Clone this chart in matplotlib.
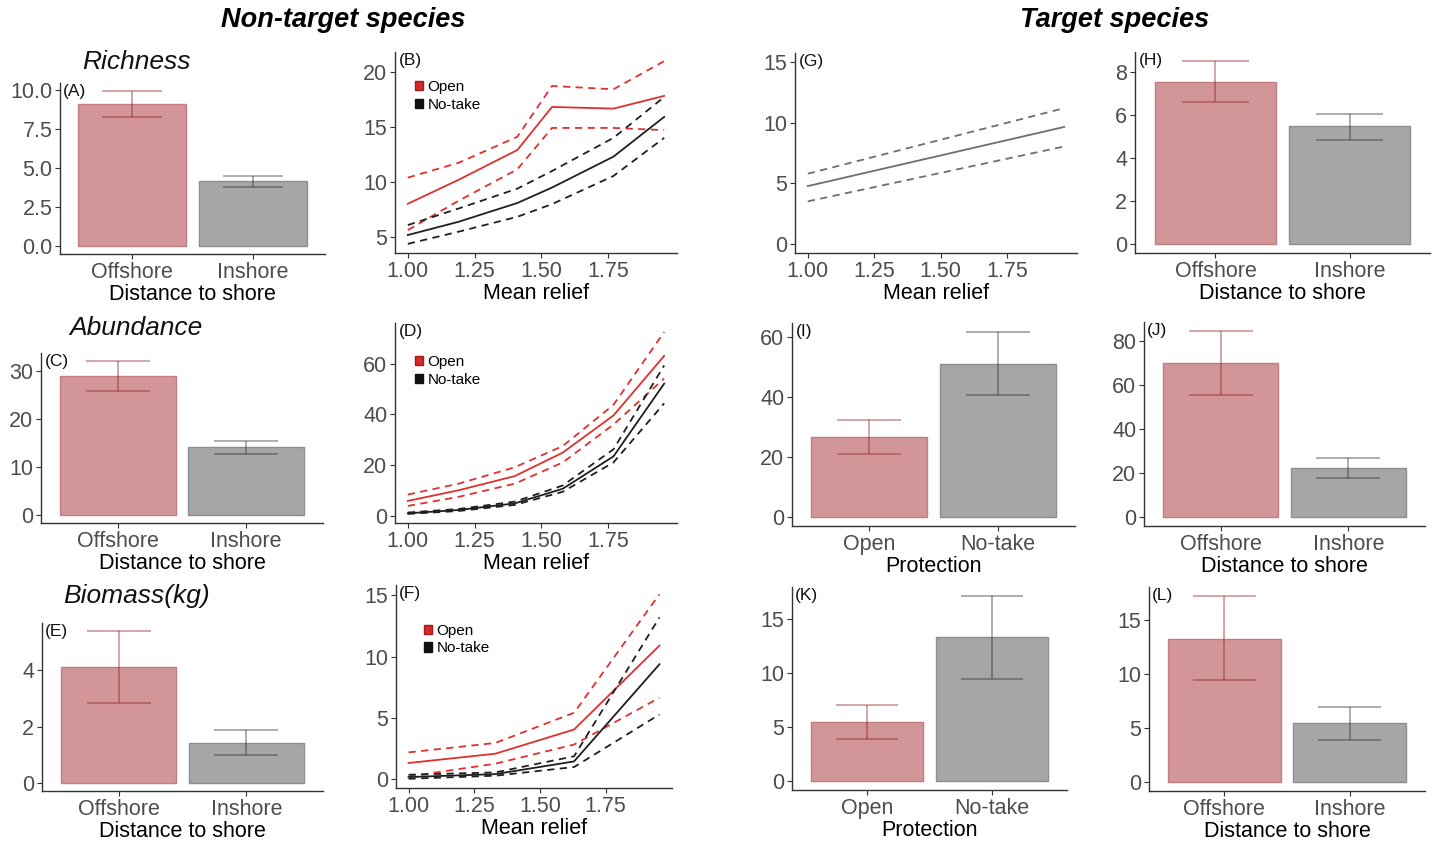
import matplotlib
matplotlib.use("Agg")
import matplotlib.pyplot as plt
from matplotlib.patches import Patch

plt.rcParams["font.family"] = ["Liberation Sans", "DejaVu Sans"]

# ---------------------------------------------------------------------------
# Data
# ---------------------------------------------------------------------------
dist_cats = ["Offshore", "Inshore"]
prot_cats = ["Open", "No-take"]

# non-target, distance to shore: mean, lower, upper
rich_mean = [9.1, 4.15]
rich_lo = [8.25, 3.8]
rich_hi = [9.95, 4.48]
abun_mean = [29.1, 14.2]
abun_lo = [25.9, 12.8]
abun_hi = [32.2, 15.45]
biom_mean = [4.12, 1.44]
biom_lo = [2.84, 1.02]
biom_hi = [5.4, 1.87]

# target species
t_rich_mean = [7.57, 5.48]
t_rich_lo = [6.64, 4.87]
t_rich_hi = [8.53, 6.08]
t_abun_prot_mean = [26.8, 51.2]
t_abun_prot_lo = [21.0, 40.6]
t_abun_prot_hi = [32.4, 61.7]
t_abun_dist_mean = [69.9, 22.3]
t_abun_dist_lo = [55.2, 17.7]
t_abun_dist_hi = [84.2, 26.7]
t_biom_prot_mean = [5.44, 13.25]
t_biom_prot_lo = [3.87, 9.4]
t_biom_prot_hi = [6.98, 17.06]
t_biom_dist_mean = [13.26, 5.45]
t_biom_dist_lo = [9.38, 3.9]
t_biom_dist_hi = [17.17, 6.92]

# mean relief effects (fit, lower, upper) for Open / No-take
relief_b = [1.0, 1.19, 1.41, 1.54, 1.77, 1.96]
b_open = [8.03, 10.2, 12.9, 16.8, 16.65, 17.8]
b_open_lo = [5.65, 8.3, 11.15, 14.9, 14.9, 14.7]
b_open_hi = [10.4, 11.74, 14.1, 18.7, 18.4, 20.95]
b_nt = [5.2, 6.4, 8.1, 9.5, 12.3, 15.9]
b_nt_lo = [4.4, 5.5, 6.85, 8.0, 10.55, 14.0]
b_nt_hi = [6.1, 7.6, 9.4, 11.0, 14.0, 17.7]

relief_d = [1.0, 1.19, 1.40, 1.58, 1.77, 1.96]
d_open = [5.8, 10.0, 15.6, 24.9, 39.6, 63.2]
d_open_lo = [3.8, 7.4, 12.6, 21.0, 36.0, 54.2]
d_open_hi = [8.3, 12.6, 19.1, 27.5, 43.8, 72.6]
d_nt = [0.9, 2.2, 4.8, 10.6, 23.4, 52.2]
d_nt_lo = [0.65, 1.8, 4.2, 9.4, 21.0, 44.4]
d_nt_hi = [1.2, 2.6, 5.5, 11.9, 26.2, 59.4]

relief_f = [1.0, 1.33, 1.63, 1.955]
f_open = [1.29, 2.05, 4.03, 10.9]
f_open_lo = [0.19, 1.23, 2.8, 6.63]
f_open_hi = [2.16, 2.93, 5.4, 15.1]
f_nt = [0.14, 0.38, 1.42, 9.37]
f_nt_lo = [0.0, 0.25, 0.96, 5.26]
f_nt_hi = [0.33, 0.52, 1.84, 13.2]

relief_g = [1.0, 1.965]
g_fit = [4.77, 9.65]
g_lo = [3.51, 8.04]
g_hi = [5.79, 11.2]

# ---------------------------------------------------------------------------
W, H = 1432, 843
fig = plt.figure(figsize=(W / 100, H / 100), dpi=100)

BAR_FILL = ["#d29698", "#a6a6a6"]
BAR_EDGE = ["#c27d80", "#8e8e8e"]
ERR_COL = ["#8b1a1a", "#2b2b2b"]
RED = "#e0302e"
BLACK = "#1f1f1f"
TICK_FS = 15.5
LAB_FS = 15.5


def make_ax(left, top, right, bottom):
    ax = fig.add_axes([left / W, 1 - bottom / H, (right - left) / W, (bottom - top) / H])
    for s in ("top", "right"):
        ax.spines[s].set_visible(False)
    for s in ("left", "bottom"):
        ax.spines[s].set_color("#333333")
        ax.spines[s].set_linewidth(1.0)
    ax.tick_params(length=3.5, width=0.8, color="#333333", labelcolor="#4d4d4d",
                   labelsize=TICK_FS, pad=2)
    return ax


def tag(ax, letter):
    ax.text(0.012, 0.995, f"({letter})", transform=ax.transAxes, ha="left", va="top",
            fontsize=12.5, color="#111111")


def bar_panel(box, cats, mean, lo, hi, yticks, xlabel, letter, fmt="{:g}"):
    ax = make_ax(*box)
    x = [1, 2]
    ax.bar(x, mean, width=0.9, color=BAR_FILL, edgecolor=BAR_EDGE, linewidth=1.0)
    for i in range(2):
        ax.vlines(x[i], lo[i], hi[i], color=ERR_COL[i], alpha=0.45, linewidth=1.2)
        ax.hlines([lo[i], hi[i]], x[i] - 0.25, x[i] + 0.25, color=ERR_COL[i],
                  alpha=0.45, linewidth=1.2)
    top = max(hi)
    ax.set_ylim(-0.05 * top, 1.05 * top)
    ax.set_xlim(0.4, 2.6)
    ax.set_xticks(x)
    ax.set_xticklabels(cats)
    ax.set_yticks(yticks)
    ax.set_yticklabels([fmt.format(v) for v in yticks])
    ax.set_xlabel(xlabel, fontsize=LAB_FS, labelpad=1)
    tag(ax, letter)
    return ax


def line_panel(box, series, yticks, letter, legend_anchor=None, ylim=None):
    ax = make_ax(*box)
    ymin, ymax, xs = [], [], []
    for relief, fit, lo, hi, col in series:
        ax.plot(relief, fit, color=col, linewidth=1.3)
        ax.plot(relief, lo, color=col, linewidth=1.3, linestyle=(0, (4, 3)))
        ax.plot(relief, hi, color=col, linewidth=1.3, linestyle=(0, (4, 3)))
        ymin.append(min(lo))
        ymax.append(max(hi))
        xs += list(relief)
    lo_y, hi_y = (min(ymin), max(ymax)) if ylim is None else ylim
    r = hi_y - lo_y
    ax.set_ylim(lo_y - 0.05 * r, hi_y + 0.05 * r)
    xr = max(xs) - min(xs)
    ax.set_xlim(min(xs) - 0.05 * xr, max(xs) + 0.05 * xr)
    ax.set_xticks([1.0, 1.25, 1.5, 1.75])
    ax.set_xticklabels(["1.00", "1.25", "1.50", "1.75"])
    ax.set_yticks(yticks)
    ax.set_xlabel("Mean relief", fontsize=LAB_FS, labelpad=1)
    tag(ax, letter)
    if legend_anchor is not None:
        handles = [Patch(facecolor="#d42a2a", edgecolor="#a81a1a", label="Open"),
                   Patch(facecolor="#111111", edgecolor="#111111", label="No-take")]
        ax.legend(handles=handles, loc="upper left", bbox_to_anchor=legend_anchor,
                  frameon=False, fontsize=11, handlelength=0.55, handleheight=0.55,
                  handletextpad=0.3, labelspacing=0.25, borderaxespad=0, borderpad=0)
    return ax


# ---- Non-target species -----------------------------------------------------
bar_panel((60, 83, 325, 254), dist_cats, rich_mean, rich_lo, rich_hi,
          [0, 2.5, 5, 7.5, 10], "Distance to shore", "A", fmt="{:.1f}")
bar_panel((41, 353, 323, 523), dist_cats, abun_mean, abun_lo, abun_hi,
          [0, 10, 20, 30], "Distance to shore", "C")
bar_panel((42, 623, 323, 791), dist_cats, biom_mean, biom_lo, biom_hi,
          [0, 2, 4], "Distance to shore", "E")

line_panel((395, 52, 677, 253),
           [(relief_b, b_open, b_open_lo, b_open_hi, RED),
            (relief_b, b_nt, b_nt_lo, b_nt_hi, BLACK)],
           [5, 10, 15, 20], "B", legend_anchor=(0.07, 0.86))
line_panel((395, 323, 677, 523),
           [(relief_d, d_open, d_open_lo, d_open_hi, RED),
            (relief_d, d_nt, d_nt_lo, d_nt_hi, BLACK)],
           [0, 20, 40, 60], "D", legend_anchor=(0.07, 0.84))
line_panel((396, 585, 672, 788),
           [(relief_f, f_open, f_open_lo, f_open_hi, RED),
            (relief_f, f_nt, f_nt_lo, f_nt_hi, BLACK)],
           [0, 5, 10, 15], "F", legend_anchor=(0.1, 0.81))

# ---- Target species ---------------------------------------------------------
line_panel((795, 53, 1077, 253),
           [(relief_g, g_fit, g_lo, g_hi, "#6e6e6e")],
           [0, 5, 10, 15], "G", ylim=(0, 15))
bar_panel((1135, 52, 1430, 253), dist_cats, t_rich_mean, t_rich_lo, t_rich_hi,
          [0, 2, 4, 6, 8], "Distance to shore", "H")
bar_panel((792, 323, 1075, 526), prot_cats, t_abun_prot_mean, t_abun_prot_lo,
          t_abun_prot_hi, [0, 20, 40, 60], "Protection", "I")
bar_panel((1144, 322, 1425, 526), dist_cats, t_abun_dist_mean, t_abun_dist_lo,
          t_abun_dist_hi, [0, 20, 40, 60, 80], "Distance to shore", "J")
bar_panel((792, 587, 1067, 790), prot_cats, t_biom_prot_mean, t_biom_prot_lo,
          t_biom_prot_hi, [0, 5, 10, 15], "Protection", "K")
bar_panel((1149, 587, 1425, 791), dist_cats, t_biom_dist_mean, t_biom_dist_lo,
          t_biom_dist_hi, [0, 5, 10, 15], "Distance to shore", "L")

# ---- headings -----------------------------------------------------------------
fig.text(343 / W, 1 - 20 / H, "Non-target species", ha="center", va="center",
         fontsize=19.5, fontweight="bold", fontstyle="italic")
fig.text(1115 / W, 1 - 20 / H, "Target species", ha="center", va="center",
         fontsize=19.5, fontweight="bold", fontstyle="italic")
for label, yc in [("Richness", 62), ("Abundance", 328), ("Biomass(kg)", 596)]:
    fig.text(136 / W, 1 - yc / H, label, ha="center", va="center",
             fontsize=19, fontstyle="italic", color="#111111")

fig.savefig("out.png", dpi=100, facecolor="white")
